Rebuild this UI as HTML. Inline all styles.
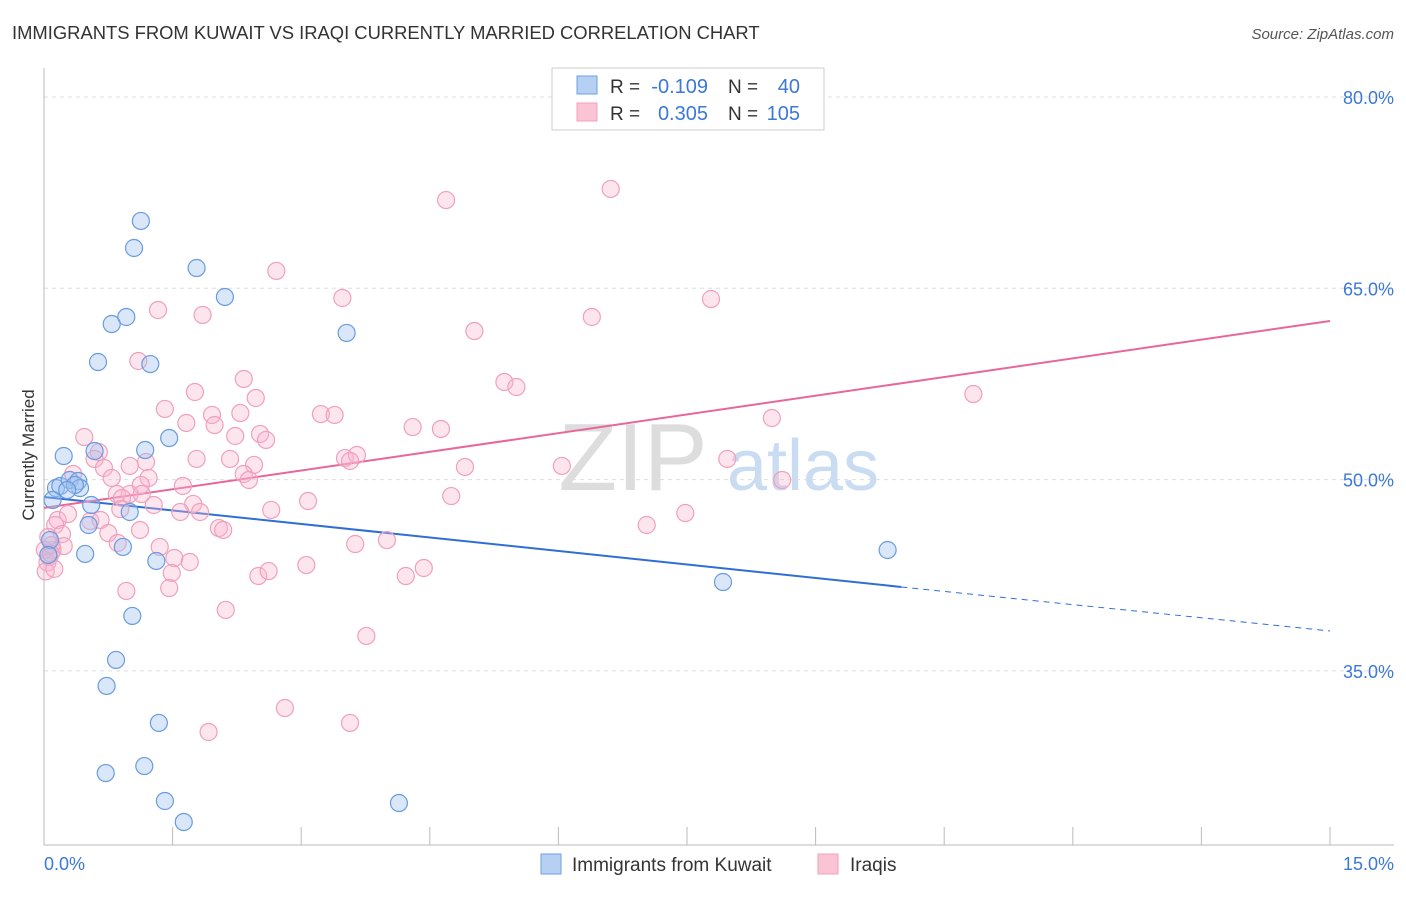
<!DOCTYPE html>
<html><head><meta charset="utf-8"><style>
body{margin:0;background:#fff;font-family:"Liberation Sans",sans-serif}
svg text{font-family:"Liberation Sans",sans-serif}
</style></head><body>
<svg id="chart" width="1406" height="892">
<text x="12" y="39" font-size="18.4" fill="#333">IMMIGRANTS FROM KUWAIT VS IRAQI CURRENTLY MARRIED CORRELATION CHART</text>
<text x="1394" y="39" font-size="15" fill="#555" font-style="italic" text-anchor="end">Source: ZipAtlas.com</text>
<g>
<text x="633" y="490" font-size="96" fill="#ddd" text-anchor="middle" font-family="Liberation Serif">ZIP</text>
<text x="803" y="490" font-size="72" fill="#c9dcf2" text-anchor="middle">atlas</text>
</g>
<g id="grid"></g><g id="axes"></g><g id="trends"></g><g id="dots"></g>
<text transform="translate(34,455) rotate(-90)" font-size="17" fill="#333" text-anchor="middle">Currently Married</text>
<g>
<rect x="552" y="68" width="272" height="62" fill="#fff" stroke="#ccc"/>
<rect x="577" y="76" width="20" height="18" fill="#b6d0f4" stroke="#6fa0e0"/>
<rect x="577" y="103" width="20" height="18" fill="#fac4d4" stroke="#f0a0bb"/>
<text x="610" y="93" font-size="19" fill="#333">R =</text>
<text x="708" y="93" font-size="20" fill="#3b78d8" text-anchor="end">-0.109</text>
<text x="728" y="93" font-size="19" fill="#333">N =</text>
<text x="800" y="93" font-size="20" fill="#3b78d8" text-anchor="end">40</text>
<text x="610" y="120" font-size="19" fill="#333">R =</text>
<text x="708" y="120" font-size="20" fill="#3b78d8" text-anchor="end">0.305</text>
<text x="728" y="120" font-size="19" fill="#333">N =</text>
<text x="800" y="120" font-size="20" fill="#3b78d8" text-anchor="end">105</text>
</g>
<g>
<rect x="541" y="854" width="20" height="20" fill="#b6d0f4" stroke="#6fa0e0"/>
<text x="572" y="871" font-size="19" fill="#333">Immigrants from Kuwait</text>
<rect x="818" y="854" width="20" height="20" fill="#fac4d4" stroke="#f0a0bb"/>
<text x="850" y="871" font-size="19" fill="#333">Iraqis</text>
</g>
</svg>
<script>
const yTicks=[35,50,65,80];
const xTickCount=10;
const xLabels=["0.0%","15.0%"];
const kuwaitX=[1.13,1.05,1.78,2.11,0.96,0.79,0.63,1.24,3.53,0.23,0.59,1.18,1.46,0.14,0.19,0.30,0.40,0.42,0.55,0.52,1.00,0.92,0.48,1.31,1.03,0.84,0.73,1.34,0.72,1.17,1.41,1.63,4.14,7.92,9.84,0.07,0.05,0.10,0.36,0.27];
const kuwaitY=[70.28,68.16,66.59,64.32,62.75,62.20,59.22,59.06,61.50,51.85,52.24,52.32,53.26,49.34,49.50,49.97,49.89,49.34,48.01,46.44,47.46,44.72,44.17,43.62,39.31,35.86,33.82,30.92,26.99,27.54,24.80,23.15,24.64,41.97,44.48,45.26,44.09,48.40,49.58,49.18];
const iraqX=[4.69,6.61,2.71,3.48,7.78,1.33,1.85,5.02,6.39,1.10,5.37,5.51,10.84,2.33,1.76,2.47,1.41,1.96,2.29,3.23,3.39,8.49,1.66,1.99,4.30,4.63,0.47,2.23,2.52,2.59,0.64,0.59,3.51,3.65,3.57,1.78,1.19,2.17,2.45,4.91,6.04,7.97,0.70,1.00,2.33,2.39,0.34,1.22,0.79,1.62,1.13,8.61,0.85,1.00,0.91,1.14,4.75,3.08,1.74,1.59,1.28,1.82,0.89,0.54,0.66,0.16,0.28,0.13,2.65,7.48,7.03,2.04,2.09,0.75,1.12,0.86,0.21,0.23,0.10,1.35,3.63,4.00,0.06,0.01,1.52,1.70,1.49,3.06,4.43,4.22,2.50,2.62,1.46,0.96,2.12,3.76,2.81,3.57,1.92,0.09,0.04,0.02,0.05,0.12,0.08];
const iraqY=[71.92,72.79,66.36,64.24,64.16,63.30,62.91,61.65,62.75,59.30,57.65,57.26,56.71,57.89,56.87,56.40,55.54,55.07,55.22,55.14,55.07,54.83,54.44,54.28,54.12,53.97,53.34,53.42,53.58,53.11,52.16,51.62,51.69,51.93,51.46,51.62,51.38,51.62,51.15,50.99,51.07,51.62,50.91,51.07,50.44,49.97,50.44,50.13,50.13,49.50,49.58,49.97,48.87,48.87,48.56,48.87,48.71,48.32,48.09,47.46,48.01,47.46,47.69,46.75,46.83,46.83,47.30,46.44,47.62,47.38,46.44,46.20,46.05,45.81,46.05,45.03,45.73,44.79,44.48,44.72,44.95,45.26,43.93,44.48,43.85,43.54,42.68,43.30,43.07,42.44,42.44,42.83,41.50,41.27,39.78,37.74,32.09,30.92,30.21,44.87,43.50,42.80,45.50,43.00,44.20];
const kuwaitTrendX=[0,10.0,15];
const kuwaitTrendY=[48.64,41.58,38.13];
const iraqTrendX=[0,15];
const iraqTrendY=[47.78,62.44];
const NS="http://www.w3.org/2000/svg";
const X0=44,X1=1330,YB=845;
const sx=v=>X0+(v/15)*(X1-X0);
const sy=v=>97+(80-v)*(191.3/15);
function mk(t,a,p){const e=document.createElementNS(NS,t);for(const k in a)e.setAttribute(k,a[k]);p.appendChild(e);return e;}
const grid=document.getElementById('grid'),axes=document.getElementById('axes');
yTicks.forEach(v=>{
 const l=mk('line',{x1:X0,x2:1394,y1:sy(v),y2:sy(v),stroke:'#ddd','stroke-dasharray':'4,4'},grid);
 
 
 const t=mk('text',{x:1394,y:sy(v)+7,'font-size':18,fill:'#3b78d8','text-anchor':'end'},axes);
 t.textContent=v.toFixed(1)+'%';
 
 
});
const ax=mk('line',{x1:X0,x2:X0,y1:68,y2:YB,stroke:'#bbb'},axes);


const bx=mk('line',{x1:X0,x2:1394,y1:YB,y2:YB,stroke:'#bbb'},axes);


for(let i=0;i<=xTickCount;i++){
 const v=i*15/xTickCount;
 const tk=mk('line',{x1:sx(v),x2:sx(v),y1:YB,y2:YB-18,stroke:'#bbb'},axes);
 
 
}
[[0,'start'],[15,'end']].forEach((p,i)=>{
 const t=mk('text',{x:i?1394:44,y:870,'font-size':18,fill:'#3b78d8','text-anchor':p[1]},axes);
 t.textContent=xLabels[i];
 
 
});
const dots=document.getElementById('dots');
function series(xs,ys,fill,stroke,name){
 xs.forEach((x,i)=>{
  const c=mk('circle',{cx:sx(x),cy:sy(ys[i]),r:8.5,fill:fill,stroke:stroke,'stroke-width':1.2},dots);
  
  
 });
}
series(iraqX,iraqY,'rgba(248,180,205,0.35)','#f0a0bb','iraqi-point');
series(kuwaitX,kuwaitY,'rgba(160,195,240,0.4)','#6a9be0','kuwait-point');
const tr=document.getElementById('trends');
const kt=mk('line',{x1:sx(kuwaitTrendX[0]),y1:sy(kuwaitTrendY[0]),x2:sx(kuwaitTrendX[1]),y2:sy(kuwaitTrendY[1]),stroke:'#2e6fd6','stroke-width':2},tr);


const kd=mk('line',{x1:sx(kuwaitTrendX[1]),y1:sy(kuwaitTrendY[1]),x2:sx(kuwaitTrendX[2]),y2:sy(kuwaitTrendY[2]),stroke:'#2e6fd6','stroke-width':1,'stroke-dasharray':'6,5'},tr);


const it=mk('line',{x1:sx(iraqTrendX[0]),y1:sy(iraqTrendY[0]),x2:sx(iraqTrendX[1]),y2:sy(iraqTrendY[1]),stroke:'#e8679a','stroke-width':2},tr);


</script>
</body></html>
